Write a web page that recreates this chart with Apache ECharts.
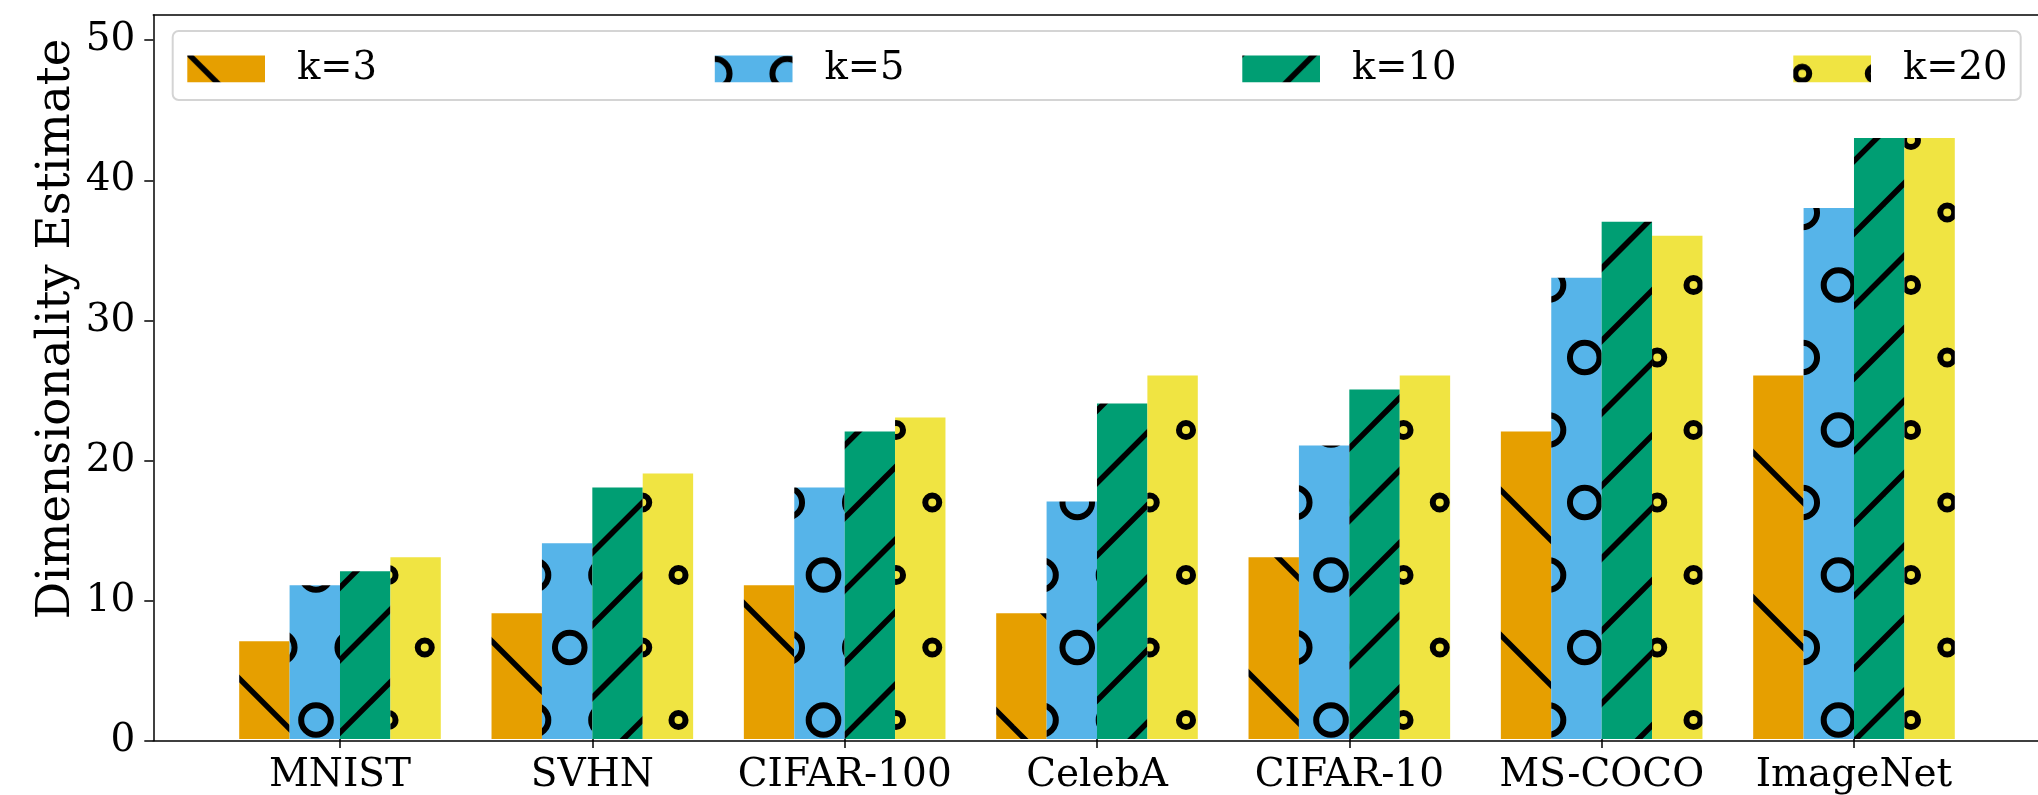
<!DOCTYPE html>
<html><head><meta charset="utf-8">
<script src="https://cdn.jsdelivr.net/npm/echarts@6/dist/echarts.min.js"></script>
<style>html,body{margin:0;padding:0;background:#fff}#c{width:2038px;height:795px}</style>
</head><body><div id="c"></div>
<script>
// ---- data ----
const categories = ['MNIST', 'SVHN', 'CIFAR-100', 'CelebA', 'CIFAR-10', 'MS-COCO', 'ImageNet'];
const k3  = [7, 9, 11, 9, 13, 22, 26];
const k5  = [11, 14, 18, 17, 21, 33, 38];
const k10 = [12, 18, 22, 24, 25, 37, 43];
const k20 = [13, 19, 23, 26, 26, 36, 43];
const seriesNames = ['k=3', 'k=5', 'k=10', 'k=20'];
const yTicks = [0, 10, 20, 30, 40, 50];
const yLabel = 'Dimensionality Estimate';

// ---- styles ----
const FONT = 'DejaVu Serif';
const colors = ['#E69F00', '#56B4E9', '#009E73', '#F0E442'];
const hatchKinds = ['back', 'big', 'fwd', 'small'];
const P = 72.5, T = 145;

function makeTile(bg, kind) {
  const c = document.createElement('canvas');
  c.width = T; c.height = T;
  const g = c.getContext('2d');
  g.fillStyle = bg; g.fillRect(0, 0, T, T);
  g.strokeStyle = '#000';
  if (kind === 'back') {
    g.lineWidth = 5.5;
    for (let k = -3; k <= 3; k++) {
      const c0 = 4.3 + k * T;
      g.beginPath(); g.moveTo(-30, c0 - 30); g.lineTo(T + 30, c0 + T + 30); g.stroke();
    }
  } else if (kind === 'fwd') {
    g.lineWidth = 5.5;
    for (let k = -2; k <= 6; k++) {
      const c0 = 57.5 + k * P;
      g.beginPath(); g.moveTo(-30, c0 + 30); g.lineTo(T + 30, c0 - T - 30); g.stroke();
    }
  } else {
    g.lineWidth = 6;
    const r = kind === 'big' ? 14.8 : 7;
    const pts = [[26, 140], [26 + P, 140], [62.25, 67.5], [62.25 + P, 67.5]];
    pts.forEach(([x, y]) => {
      for (let dx = -T; dx <= T; dx += T) for (let dy = -T; dy <= T; dy += T) {
        g.beginPath(); g.arc(x + dx, y + dy, r, 0, 2 * Math.PI); g.stroke();
      }
    });
  }
  return c;
}
const tiles = colors.map((col, i) => makeTile(col, hatchKinds[i]));

const seriesData = [k3, k5, k10, k20];
const legLeft = [187.3, 714.8, 1242.3, 1793.3];
const legTop = 49.3;
const axisColor = '#000';
const YMAX = 51.8;

const chart = echarts.init(document.getElementById('c'), null, {renderer: 'canvas'});
chart.setOption({
  animation: false,
  backgroundColor: '#fff',
  grid: [
    {left: 153.3, width: 1900, top: 15, bottom: 54.3},
    {left: 213.83, width: 1766.33, top: 15, bottom: 54.3}
  ],
  xAxis: [
    {gridIndex: 0, type: 'value', min: 0, max: 1, position: 'bottom', z: 10,
     axisLine: {show: true, lineStyle: {color: axisColor, width: 1.5}},
     axisTick: {show: false}, axisLabel: {show: false}, splitLine: {show: false}},
    {gridIndex: 0, type: 'value', min: 0, max: 1, position: 'top', z: 10,
     axisLine: {show: true, lineStyle: {color: axisColor, width: 1.5}},
     axisTick: {show: false}, axisLabel: {show: false}, splitLine: {show: false}},
    {gridIndex: 1, type: 'category', data: categories, z: 10,
     axisLine: {show: false},
     axisTick: {show: true, alignWithLabel: true, interval: 0, length: 9, lineStyle: {color: axisColor, width: 1.5}},
     axisLabel: {interval: 0, fontFamily: FONT, fontSize: 39, color: '#000', margin: 17}}
  ],
  yAxis: [
    {gridIndex: 0, type: 'value', min: 0, max: YMAX, z: 10,
     axisLine: {show: true, lineStyle: {color: axisColor, width: 1.5}},
     axisTick: {show: true, length: 9, customValues: yTicks, lineStyle: {color: axisColor, width: 1.5}},
     axisLabel: {customValues: yTicks, fontFamily: FONT, fontSize: 39, color: '#000', margin: 18},
     splitLine: {show: false}},
    {gridIndex: 1, type: 'value', min: 0, max: YMAX, show: false, splitLine: {show: false}}
  ],
  legend: seriesNames.map((n, i) => ({
    data: [{name: n, icon: 'rect',
            itemStyle: {color: {image: tiles[i], repeat: 'repeat', x: -legLeft[i], y: -legTop},
                        borderWidth: 0}}],
    left: legLeft[i], top: legTop, padding: 0, z: 5,
    itemWidth: 77.7, itemHeight: 26.7, selectedMode: false,
    textStyle: {fontFamily: FONT, fontSize: 38.5, color: '#000', padding: [0, 0, 0, 27], lineHeight: 26}
  })),
  graphic: [
    {type: 'rect', z: 1, shape: {x: 172.7, y: 31, width: 1848, height: 69, r: 6},
     style: {fill: 'rgba(255,255,255,0.8)', stroke: '#d4d4d4', lineWidth: 2}},
    {type: 'text', z: 1, x: 57, y: 329, rotation: Math.PI / 2,
     style: {text: yLabel, font: '46.8px "DejaVu Serif"', fill: '#000', align: 'center', verticalAlign: 'middle'}}
  ],
  series: seriesData.map((d, i) => ({
    name: seriesNames[i], type: 'bar', xAxisIndex: 2, yAxisIndex: 1,
    data: d, barWidth: 50.4, barGap: '0%',
    itemStyle: {color: {image: tiles[i], repeat: 'repeat'}, borderWidth: 0, borderColor: 'rgba(0,0,0,0)'},
    emphasis: {disabled: true}
  }))
});
</script></body></html>
